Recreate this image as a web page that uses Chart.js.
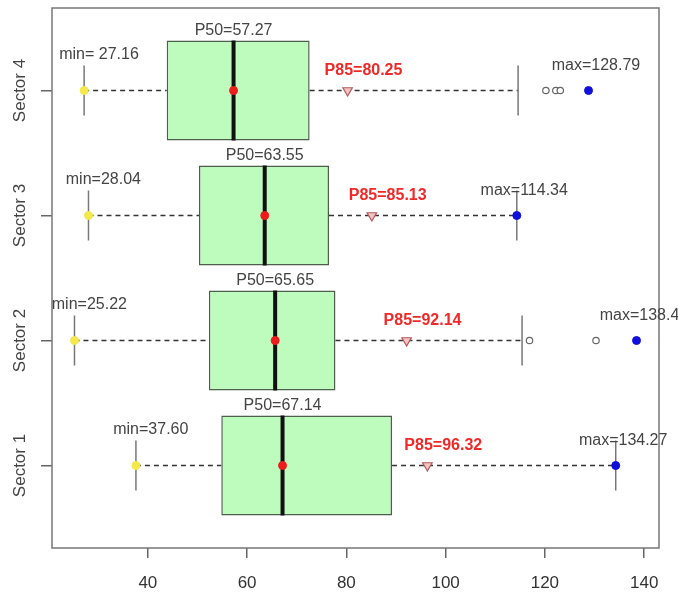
<!DOCTYPE html>
<html>
<head>
<meta charset="utf-8">
<script src="https://cdn.jsdelivr.net/npm/chart.js@4"></script>
<style>
  html, body { margin: 0; padding: 0; background: #fff; }
  #wrap { width: 678px; height: 593px; }
</style>
</head>
<body>
<div id="wrap"><canvas id="box"></canvas></div>
<script>
// values, bottom row (Sector 1) first
const sectors = ['Sector 1', 'Sector 2', 'Sector 3', 'Sector 4'];
const minVals = [37.60, 25.22, 28.04, 27.16];
const minText = ['min=37.60', 'min=25.22', 'min=28.04', 'min= 27.16'];
const q1Vals = [54.8, 52.3, 50.3, 43.8];
const medianVals = [67.14, 65.65, 63.55, 57.27];
const q3Vals = [89.2, 77.8, 76.5, 72.6];
const upperWhisker = [134.27, 115.4, 114.34, 114.6];
const p85Vals = [96.32, 92.14, 85.13, 80.25];
const maxVals = [134.27, 138.46, 114.34, 128.79];
const outlierVals = [[], [116.9, 130.3], [], [120.2, 122.2, 123.1]];
const xTicks = [40, 60, 80, 100, 120, 140];

const pos = sectors.map((s, i) => i + 1);
const FONT = '"Liberation Sans", Arial, sans-serif';

const boxPlugin = {
  id: 'boxExtras',
  afterDatasetDraw(chart, args) {
    if (args.index !== 0) return;
    const {ctx, scales: {x, y}} = chart;
    const unit = Math.abs(y.getPixelForValue(1) - y.getPixelForValue(2));
    ctx.save();
    pos.forEach((p, i) => {
      const cy = y.getPixelForValue(p);
      // dashed whiskers
      ctx.strokeStyle = '#333';
      ctx.lineWidth = 1.3;
      ctx.setLineDash([5, 4]);
      ctx.beginPath();
      ctx.moveTo(x.getPixelForValue(minVals[i]), cy);
      ctx.lineTo(x.getPixelForValue(q1Vals[i]), cy);
      ctx.moveTo(x.getPixelForValue(q3Vals[i]), cy);
      ctx.lineTo(x.getPixelForValue(upperWhisker[i]), cy);
      ctx.stroke();
      ctx.setLineDash([]);
      // staples
      ctx.strokeStyle = '#777';
      ctx.lineWidth = 1.5;
      [minVals[i], upperWhisker[i]].forEach(v => {
        const px = x.getPixelForValue(v);
        ctx.beginPath();
        ctx.moveTo(px, cy - unit * 0.2);
        ctx.lineTo(px, cy + unit * 0.2);
        ctx.stroke();
      });
      // median bar
      const mx = x.getPixelForValue(medianVals[i]);
      ctx.strokeStyle = '#111';
      ctx.lineWidth = 4;
      ctx.beginPath();
      ctx.moveTo(mx, cy - unit * 0.4);
      ctx.lineTo(mx, cy + unit * 0.4);
      ctx.stroke();
    });
    ctx.restore();
  },
  afterDatasetsDraw(chart) {
    const {ctx, chartArea: a, scales: {x, y}} = chart;
    const unit = Math.abs(y.getPixelForValue(1) - y.getPixelForValue(2));
    ctx.save();
    // frame
    ctx.strokeStyle = '#777';
    ctx.lineWidth = 1.5;
    ctx.strokeRect(a.left, a.top, a.right - a.left, a.bottom - a.top);

    ctx.textAlign = 'center';
    ctx.textBaseline = 'middle';
    pos.forEach((p, i) => {
      const cy = y.getPixelForValue(p);
      ctx.font = '16px ' + FONT;
      ctx.fillStyle = '#444';
      ctx.fillText('P50=' + medianVals[i].toFixed(2), x.getPixelForValue(medianVals[i]), cy - unit * 0.48);
      ctx.fillText(minText[i], x.getPixelForValue(minVals[i] + 3), cy - unit * 0.29);
      ctx.fillText('max=' + maxVals[i].toFixed(2), x.getPixelForValue(maxVals[i] + 1.5), cy - unit * 0.2);
      ctx.font = 'bold 16px ' + FONT;
      ctx.fillStyle = '#f02828';
      ctx.fillText('P85=' + p85Vals[i].toFixed(2), x.getPixelForValue(p85Vals[i] + 3.2), cy - unit * 0.16);
      // category label
      ctx.save();
      ctx.translate(y.left + 20, cy);
      ctx.rotate(-Math.PI / 2);
      ctx.font = '17px ' + FONT;
      ctx.fillStyle = '#444';
      ctx.fillText(sectors[i], 0, 0);
      ctx.restore();
    });
    ctx.restore();
  }
};

const outlierPts = [];
outlierVals.forEach((list, i) => list.forEach(v => outlierPts.push({x: v, y: pos[i]})));

new Chart('box', {
  type: 'bar',
  data: {
    datasets: [
      {
        label: 'box',
        data: pos.map((p, i) => ({x: [q1Vals[i], q3Vals[i]], y: p})),
        backgroundColor: '#bdfcbd',
        borderColor: '#4d5e4d',
        borderWidth: 1.5,
        borderSkipped: false,
        categoryPercentage: 1,
        barPercentage: 0.8,
        order: 10
      },
      {
        type: 'scatter',
        label: 'outliers',
        data: outlierPts,
        pointRadius: 3.2,
        pointBackgroundColor: '#fff',
        pointBorderColor: '#666',
        pointBorderWidth: 1.2,
        order: 2
      },
      {
        type: 'scatter',
        label: 'P85',
        data: pos.map((p, i) => ({x: p85Vals[i], y: p})),
        pointStyle: 'triangle',
        rotation: 180,
        pointRadius: 5.5,
        pointBackgroundColor: '#f3c4c4',
        pointBorderColor: '#b35a5a',
        pointBorderWidth: 1.2,
        order: 1
      },
      {
        type: 'scatter',
        label: 'min',
        data: pos.map((p, i) => ({x: minVals[i], y: p})),
        pointRadius: 4,
        pointBackgroundColor: '#f5e84a',
        pointBorderColor: '#f5e84a',
        order: 1
      },
      {
        type: 'scatter',
        label: 'median',
        data: pos.map((p, i) => ({x: medianVals[i], y: p})),
        pointRadius: 4,
        pointBackgroundColor: '#ee1c1c',
        pointBorderColor: '#ee1c1c',
        order: 1
      },
      {
        type: 'scatter',
        label: 'max',
        data: pos.map((p, i) => ({x: maxVals[i], y: p})),
        pointRadius: 4,
        pointBackgroundColor: '#1010dd',
        pointBorderColor: '#1010dd',
        order: 1
      }
    ]
  },
  options: {
    indexAxis: 'y',
    responsive: true,
    maintainAspectRatio: false,
    animation: false,
    layout: { padding: { top: 8, right: 19, left: 0, bottom: 0 } },
    scales: {
      x: {
        type: 'linear',
        min: 20.69,
        max: 142.99,
        offset: false,
        afterBuildTicks: s => { s.ticks = xTicks.map(v => ({value: v})); },
        afterFit: s => { s.height = 45; },
        grid: { offset: false, drawOnChartArea: false, drawTicks: true, tickLength: 10, color: '#666', lineWidth: 1.5 },
        border: { display: false },
        ticks: { color: '#333', font: { family: FONT, size: 17 }, padding: 15, maxRotation: 0 }
      },
      y: {
        type: 'linear',
        min: 0.34,
        max: 4.66,
        offset: false,
        afterBuildTicks: s => { s.ticks = pos.map(v => ({value: v})); },
        afterFit: s => { s.width = 52; },
        grid: { offset: false, drawOnChartArea: false, drawTicks: true, tickLength: 11, color: '#666', lineWidth: 1.5 },
        border: { display: false },
        ticks: { display: false }
      }
    },
    plugins: {
      legend: { display: false },
      tooltip: { enabled: false }
    }
  },
  plugins: [boxPlugin]
});
</script>
</body>
</html>
